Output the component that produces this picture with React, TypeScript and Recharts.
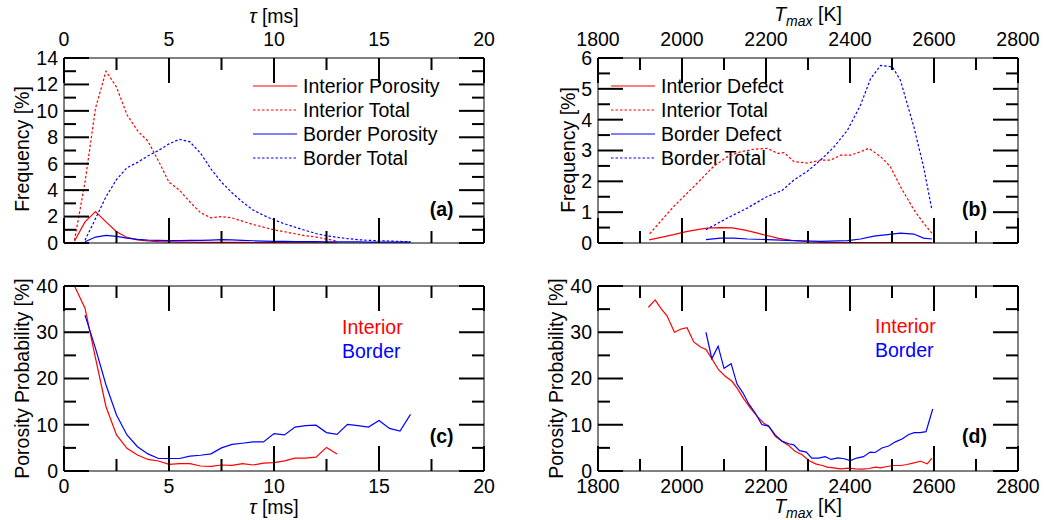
import React from 'react';
import { LineChart, Line, XAxis, YAxis } from 'recharts';

const FONT = '"Liberation Sans", Arial, Helvetica, sans-serif';
const FS = 19.5;
const RED = '#ff0000';
const BLUE = '#0000ff';
const INK = '#000';
const MAJOR_LEN = 25;
const MINOR_LEN = 12;
const TICK_W = 2;

// ---- tick values / labels ----
const TAU_TICKS = [0, 2.5, 5, 7.5, 10, 12.5, 15, 17.5, 20];
const TAU_LABELS = [0, 5, 10, 15, 20];
const TMAX_TICKS = [1800, 1900, 2000, 2100, 2200, 2300, 2400, 2500, 2600, 2700, 2800];
const TMAX_LABELS = [1800, 2000, 2200, 2400, 2600, 2800];
const FREQ_A_TICKS = [0, 1, 2, 3, 4, 5, 6, 7, 8, 9, 10, 11, 12, 13, 14];
const FREQ_A_LABELS = [0, 2, 4, 6, 8, 10, 12, 14];
const FREQ_B_TICKS = [0, 0.5, 1, 1.5, 2, 2.5, 3, 3.5, 4, 4.5, 5, 5.5, 6];
const FREQ_B_LABELS = [0, 1, 2, 3, 4, 5, 6];
const PROB_TICKS = [0, 5, 10, 15, 20, 25, 30, 35, 40];
const PROB_LABELS = [0, 10, 20, 30, 40];

// ---- legend names ----
const LEGEND_A = ['Interior Porosity', 'Interior Total', 'Border Porosity', 'Border Total'];
const LEGEND_B = ['Interior Defect', 'Interior Total', 'Border Defect', 'Border Total'];

// ---- panel (a) & (c): tau [ms] ----
const TAU_INTERIOR = [0.5, 1, 1.5, 2, 2.5, 3, 3.5, 4, 4.5, 5, 5.5, 6, 6.5, 7, 7.5, 8, 8.5, 9, 9.5, 10, 10.5, 11, 11.5, 12, 12.5, 13];
const TAU_BORDER = [1, 1.5, 2, 2.5, 3, 3.5, 4, 4.5, 5, 5.5, 6, 6.5, 7, 7.5, 8, 8.5, 9, 9.5, 10, 10.5, 11, 11.5, 12, 12.5, 13, 13.5, 14, 14.5, 15, 15.5, 16, 16.5];

const A_INTERIOR_POROSITY = [0.15, 1.6, 2.37, 1.6, 0.85, 0.42, 0.24, 0.15, 0.1, 0.08, 0.07, 0.06, 0.05, 0.05, 0.05, 0.04, 0.04, 0.03, 0.03, 0.03, 0.03, 0.02, 0.02, 0.02, 0.02, 0.01];
const A_INTERIOR_TOTAL = [0.2, 4.6, 10.2, 13.0, 11.8, 9.7, 8.5, 7.7, 6.2, 4.6, 4.0, 3.1, 2.3, 1.9, 2.0, 1.9, 1.65, 1.4, 1.2, 1.0, 0.85, 0.7, 0.55, 0.45, 0.3, 0.15];
const A_BORDER_POROSITY = [0.1, 0.45, 0.58, 0.5, 0.37, 0.27, 0.22, 0.2, 0.18, 0.18, 0.2, 0.2, 0.22, 0.25, 0.24, 0.2, 0.17, 0.14, 0.12, 0.12, 0.11, 0.1, 0.1, 0.09, 0.09, 0.08, 0.08, 0.07, 0.07, 0.06, 0.06, 0.06];
const A_BORDER_TOTAL = [0.2, 1.85, 3.5, 4.8, 5.7, 6.1, 6.6, 7.0, 7.5, 7.85, 7.65, 6.8, 5.6, 4.6, 3.8, 3.1, 2.5, 2.1, 1.75, 1.45, 1.2, 0.95, 0.72, 0.55, 0.43, 0.33, 0.25, 0.2, 0.18, 0.15, 0.12, 0.1];

const C_INTERIOR = [40, 35.2, 24.4, 13.9, 7.8, 4.9, 3.46, 2.5, 2.16, 1.44, 1.6, 1.6, 1.08, 1.0, 1.3, 1.2, 1.6, 1.3, 1.7, 1.8, 2.2, 2.8, 2.8, 3.0, 5.1, 3.7];
const C_BORDER = [33.7, 26.5, 18.6, 12.1, 7.8, 5.25, 3.7, 2.7, 2.7, 2.7, 3.2, 3.4, 3.7, 5.0, 5.75, 6.0, 6.3, 6.3, 8.1, 7.8, 9.5, 9.8, 9.9, 8.3, 7.9, 10.1, 9.8, 9.5, 10.9, 9.2, 8.65, 12.25];

// ---- panel (b): Tmax [K] ----
const B_T_INTERIOR_DEFECT = [1922, 1950, 1980, 2010, 2040, 2060, 2090, 2120, 2150, 2180, 2200, 2230, 2260, 2300, 2340, 2400, 2500, 2595];
const B_INTERIOR_DEFECT = [0.1, 0.18, 0.27, 0.37, 0.44, 0.48, 0.5, 0.49, 0.42, 0.32, 0.25, 0.15, 0.09, 0.04, 0.02, 0.01, 0.01, 0.01];
const B_T_INTERIOR_TOTAL = [1923, 1980, 2028, 2075, 2108, 2140, 2171, 2203, 2227, 2243, 2267, 2298, 2330, 2354, 2378, 2402, 2425, 2445, 2473, 2496, 2520, 2552, 2575, 2595];
const B_INTERIOR_TOTAL = [0.3, 1.18, 1.83, 2.48, 2.8, 2.96, 3.04, 3.07, 2.91, 2.93, 2.64, 2.59, 2.69, 2.69, 2.85, 2.85, 2.96, 3.07, 2.8, 2.48, 1.83, 1.08, 0.65, 0.32];
const B_T_BORDER_DEFECT = [2057, 2091, 2123, 2155, 2203, 2267, 2330, 2394, 2425, 2457, 2489, 2520, 2552, 2575, 2595];
const B_BORDER_DEFECT = [0.11, 0.16, 0.16, 0.13, 0.11, 0.08, 0.05, 0.08, 0.13, 0.22, 0.27, 0.32, 0.29, 0.16, 0.13];
const B_T_BORDER_TOTAL = [2057, 2108, 2155, 2203, 2238, 2267, 2298, 2330, 2362, 2394, 2425, 2449, 2473, 2501, 2520, 2552, 2575, 2595];
const B_BORDER_TOTAL = [0.43, 0.81, 1.13, 1.51, 1.7, 2.05, 2.32, 2.69, 3.12, 3.66, 4.47, 5.33, 5.76, 5.71, 5.28, 3.77, 2.48, 1.08];

// ---- panel (d): Tmax [K] ----
const D_T_INTERIOR = [1920, 1936, 1951, 1964, 1982, 1998, 2012, 2028, 2044, 2057, 2071, 2087, 2103, 2119, 2132, 2147, 2163, 2179, 2195, 2207, 2222, 2238, 2254, 2270, 2286, 2302, 2318, 2334, 2346, 2361, 2377, 2397, 2413, 2429, 2445, 2461, 2473, 2488, 2504, 2520, 2536, 2552, 2568, 2584, 2595];
const D_INTERIOR = [35.4, 37.0, 35.0, 33.6, 30.0, 30.7, 31.0, 27.9, 26.8, 26.3, 24.3, 21.9, 20.5, 19.4, 17.8, 15.6, 13.6, 11.8, 10.3, 9.7, 7.5, 6.45, 5.5, 4.2, 3.5, 2.27, 1.55, 1.19, 0.83, 0.68, 0.47, 0.6, 0.47, 0.4, 0.54, 0.83, 0.68, 0.97, 1.19, 1.19, 1.4, 1.77, 2.1, 1.55, 2.77];
const D_T_BORDER = [2057, 2071, 2086, 2100, 2117, 2131, 2145, 2159, 2174, 2190, 2206, 2222, 2238, 2254, 2266, 2280, 2296, 2309, 2325, 2341, 2355, 2371, 2386, 2401, 2416, 2432, 2448, 2460, 2476, 2492, 2508, 2524, 2540, 2553, 2567, 2581, 2597];
const D_BORDER = [30.0, 24.3, 27.0, 22.2, 23.2, 18.8, 16.9, 14.5, 12.6, 10.05, 9.7, 7.8, 6.45, 5.9, 5.65, 4.4, 4.1, 2.8, 2.8, 3.1, 2.5, 2.85, 2.65, 2.27, 2.8, 3.1, 4.1, 4.0, 4.98, 5.4, 6.3, 6.9, 7.9, 8.3, 8.3, 8.5, 13.4];

type Side = 'top' | 'bottom' | 'left' | 'right';
const isIn = (arr: number[], v: number) => arr.some((a) => Math.abs(a - v) < 1e-6);

// custom tick: inward tick mark (major/minor length) + optional outside label
function tickRenderer(side: Side, labels: number[], show: boolean) {
  return (p: any) => {
    const x = Number(p.x);
    const y = Number(p.y);
    const v = Number(p.payload?.value);
    const major = isIn(labels, v);
    const len = major ? MAJOR_LEN : MINOR_LEN;
    let x2 = x, y2 = y, lx = x, ly = y;
    let anchor: 'middle' | 'end' = 'middle';
    let dy = '0';
    if (side === 'top') { y2 = y + len; ly = y - 12; }
    else if (side === 'bottom') { y2 = y - len; ly = y + 22; }
    else if (side === 'left') { x2 = x + len; lx = x - 6; anchor = 'end'; dy = '0.355em'; }
    else { x2 = x - len; }
    return (
      <g>
        <line x1={x} y1={y} x2={x2} y2={y2} stroke={INK} strokeWidth={TICK_W} />
        {show && major ? (
          <text x={lx} y={ly} dy={dy} textAnchor={anchor} fontFamily={FONT} fontSize={FS} fill="#000">
            {String(v)}
          </text>
        ) : null}
      </g>
    );
  };
}

type Series = { xs: number[]; ys: number[]; color: string; dashed?: boolean; name: string };

type PanelProps = {
  left: number; top: number; width: number; height: number;
  topH: number; bottomH: number; leftW: number; rightW: number;
  xDomain: [number, number]; xTicks: number[]; xLabels: number[];
  yDomain: [number, number]; yTicks: number[]; yLabels: number[];
  topLabels: boolean; bottomLabels: boolean;
  series: Series[];
  children?: React.ReactNode;
};

const toPts = (xs: number[], ys: number[]) => xs.map((x, i) => ({ x, y: ys[i] }));

function Panel(pp: PanelProps) {
  const axisLine = { stroke: '#000', strokeWidth: 1 };
  const xCommon = { type: 'number' as const, dataKey: 'x', domain: pp.xDomain, interval: 0 as const, allowDataOverflow: true };
  const yCommon = { type: 'number' as const, domain: pp.yDomain, interval: 0 as const, allowDataOverflow: true };
  return (
    <div style={{ position: 'absolute', left: pp.left, top: pp.top }}>
      <LineChart width={pp.width} height={pp.height} margin={{ top: 0, right: 0, bottom: 0, left: 0 }}>
        <XAxis xAxisId="t" orientation="top" {...xCommon} ticks={pp.xTicks} height={pp.topH} tickSize={0} tickMargin={0}
          tickLine={false} axisLine={axisLine} tick={tickRenderer('top', pp.xLabels, pp.topLabels)} />
        <XAxis xAxisId="b" orientation="bottom" {...xCommon} ticks={pp.xTicks} height={pp.bottomH} tickSize={0} tickMargin={0}
          tickLine={false} axisLine={axisLine} tick={tickRenderer('bottom', pp.xLabels, pp.bottomLabels)} />
        <YAxis yAxisId="l" orientation="left" {...yCommon} ticks={pp.yTicks} width={pp.leftW} tickSize={0} tickMargin={0}
          tickLine={false} axisLine={axisLine} tick={tickRenderer('left', pp.yLabels, true)} />
        <YAxis yAxisId="r" orientation="right" {...yCommon} ticks={pp.yTicks} width={pp.rightW} tickSize={0} tickMargin={0}
          tickLine={false} axisLine={axisLine} tick={tickRenderer('right', pp.yLabels, false)} />
        {pp.series.map((s) => (
          <Line key={s.name} name={s.name} data={toPts(s.xs, s.ys)} dataKey="y" xAxisId="b" yAxisId="l"
            type="linear" stroke={s.color} strokeWidth={1.2} strokeDasharray={s.dashed ? '2.5 2' : undefined}
            dot={false} activeDot={false} isAnimationActive={false} />
        ))}
        {pp.children}
      </LineChart>
    </div>
  );
}

const txt = { fontFamily: FONT, fontSize: FS, fill: '#000' } as const;

function LegendBlock({ x, y, names, colors, dashed }: { x: number; y: number; names: string[]; colors: string[]; dashed: boolean[] }) {
  return (
    <g>
      {names.map((n, i) => (
        <g key={n}>
          <line x1={x} x2={x + 44} y1={y + i * 24} y2={y + i * 24} stroke={colors[i]} strokeWidth={1.2}
            strokeDasharray={dashed[i] ? '2.5 2' : undefined} />
          <text x={x + 50} y={y + i * 24} dy="0.355em" {...txt}>{n}</text>
        </g>
      ))}
    </g>
  );
}

const TauTitle = ({ x, y }: { x: number; y: number }) => (
  <text x={x} y={y} textAnchor="middle" {...txt}>
    <tspan fontStyle="italic">τ</tspan> [ms]
  </text>
);
const TmaxTitle = ({ x, y }: { x: number; y: number }) => (
  <text x={x} y={y} textAnchor="middle" {...txt}>
    <tspan fontStyle="italic">T</tspan>
    <tspan fontStyle="italic" fontSize={14} dy={5}>max</tspan>
    <tspan dy={-5}> [K]</tspan>
  </text>
);
const VTitle = ({ x, y, label }: { x: number; y: number; label: string }) => (
  <text x={x} y={y} transform={`rotate(-90 ${x} ${y})`} textAnchor="middle" {...txt}>{label}</text>
);
const Tag = ({ x, y, label }: { x: number; y: number; label: string }) => (
  <text x={x} y={y} textAnchor="end" {...txt} fontWeight="bold">{label}</text>
);

export default function App() {
  const seriesA: Series[] = [
    { name: LEGEND_A[0], xs: TAU_INTERIOR, ys: A_INTERIOR_POROSITY, color: RED },
    { name: LEGEND_A[1], xs: TAU_INTERIOR, ys: A_INTERIOR_TOTAL, color: RED, dashed: true },
    { name: LEGEND_A[2], xs: TAU_BORDER, ys: A_BORDER_POROSITY, color: BLUE },
    { name: LEGEND_A[3], xs: TAU_BORDER, ys: A_BORDER_TOTAL, color: BLUE, dashed: true },
  ];
  const seriesB: Series[] = [
    { name: LEGEND_B[0], xs: B_T_INTERIOR_DEFECT, ys: B_INTERIOR_DEFECT, color: RED },
    { name: LEGEND_B[1], xs: B_T_INTERIOR_TOTAL, ys: B_INTERIOR_TOTAL, color: RED, dashed: true },
    { name: LEGEND_B[2], xs: B_T_BORDER_DEFECT, ys: B_BORDER_DEFECT, color: BLUE },
    { name: LEGEND_B[3], xs: B_T_BORDER_TOTAL, ys: B_BORDER_TOTAL, color: BLUE, dashed: true },
  ];
  const seriesC: Series[] = [
    { name: 'Interior', xs: TAU_INTERIOR, ys: C_INTERIOR, color: RED },
    { name: 'Border', xs: TAU_BORDER, ys: C_BORDER, color: BLUE },
  ];
  const seriesD: Series[] = [
    { name: 'Interior', xs: D_T_INTERIOR, ys: D_INTERIOR, color: RED },
    { name: 'Border', xs: D_T_BORDER, ys: D_BORDER, color: BLUE },
  ];
  const legColors = [RED, RED, BLUE, BLUE];
  const legDash = [false, true, false, true];

  return (
    <div style={{ position: 'absolute', left: 0, top: 0, width: 1044, height: 520, background: '#fff' }}>
      <Panel left={0} top={0} width={504} height={258} topH={58} bottomH={15} leftW={64} rightW={20}
        xDomain={[0, 20]} xTicks={TAU_TICKS} xLabels={TAU_LABELS}
        yDomain={[0, 14]} yTicks={FREQ_A_TICKS} yLabels={FREQ_A_LABELS}
        topLabels={true} bottomLabels={false} series={seriesA}>
        <TauTitle x={274} y={23} />
        <VTitle x={28.5} y={149} label="Frequency [%]" />
        <LegendBlock x={253} y={86} names={LEGEND_A} colors={legColors} dashed={legDash} />
        <Tag x={453.5} y={216} label="(a)" />
      </Panel>

      <Panel left={530} top={0} width={514} height={258} topH={58} bottomH={15} leftW={68} rightW={26}
        xDomain={[1800, 2800]} xTicks={TMAX_TICKS} xLabels={TMAX_LABELS}
        yDomain={[0, 6]} yTicks={FREQ_B_TICKS} yLabels={FREQ_B_LABELS}
        topLabels={true} bottomLabels={false} series={seriesB}>
        <TmaxTitle x={278} y={21} />
        <VTitle x={45} y={150} label="Frequency [%]" />
        <LegendBlock x={81} y={86} names={LEGEND_B} colors={legColors} dashed={legDash} />
        <Tag x={457} y={216} label="(b)" />
      </Panel>

      <Panel left={0} top={250} width={504} height={270} topH={36} bottomH={49} leftW={64} rightW={20}
        xDomain={[0, 20]} xTicks={TAU_TICKS} xLabels={TAU_LABELS}
        yDomain={[0, 40]} yTicks={PROB_TICKS} yLabels={PROB_LABELS}
        topLabels={false} bottomLabels={true} series={seriesC}>
        <TauTitle x={274} y={263.5} />
        <VTitle x={28.5} y={128.5} label="Porosity Probability [%]" />
        <text x={342} y={83.7} {...txt} fill={RED}>Interior</text>
        <text x={342} y={108} {...txt} fill={BLUE}>Border</text>
        <Tag x={453.5} y={192.5} label="(c)" />
      </Panel>

      <Panel left={530} top={250} width={514} height={270} topH={36} bottomH={49} leftW={68} rightW={26}
        xDomain={[1800, 2800]} xTicks={TMAX_TICKS} xLabels={TMAX_LABELS}
        yDomain={[0, 40]} yTicks={PROB_TICKS} yLabels={PROB_LABELS}
        topLabels={false} bottomLabels={true} series={seriesD}>
        <TmaxTitle x={278} y={263} />
        <VTitle x={33} y={128.5} label="Porosity Probability [%]" />
        <text x={345} y={82.7} {...txt} fill={RED}>Interior</text>
        <text x={345} y={107} {...txt} fill={BLUE}>Border</text>
        <Tag x={457} y={192.5} label="(d)" />
      </Panel>
    </div>
  );
}
